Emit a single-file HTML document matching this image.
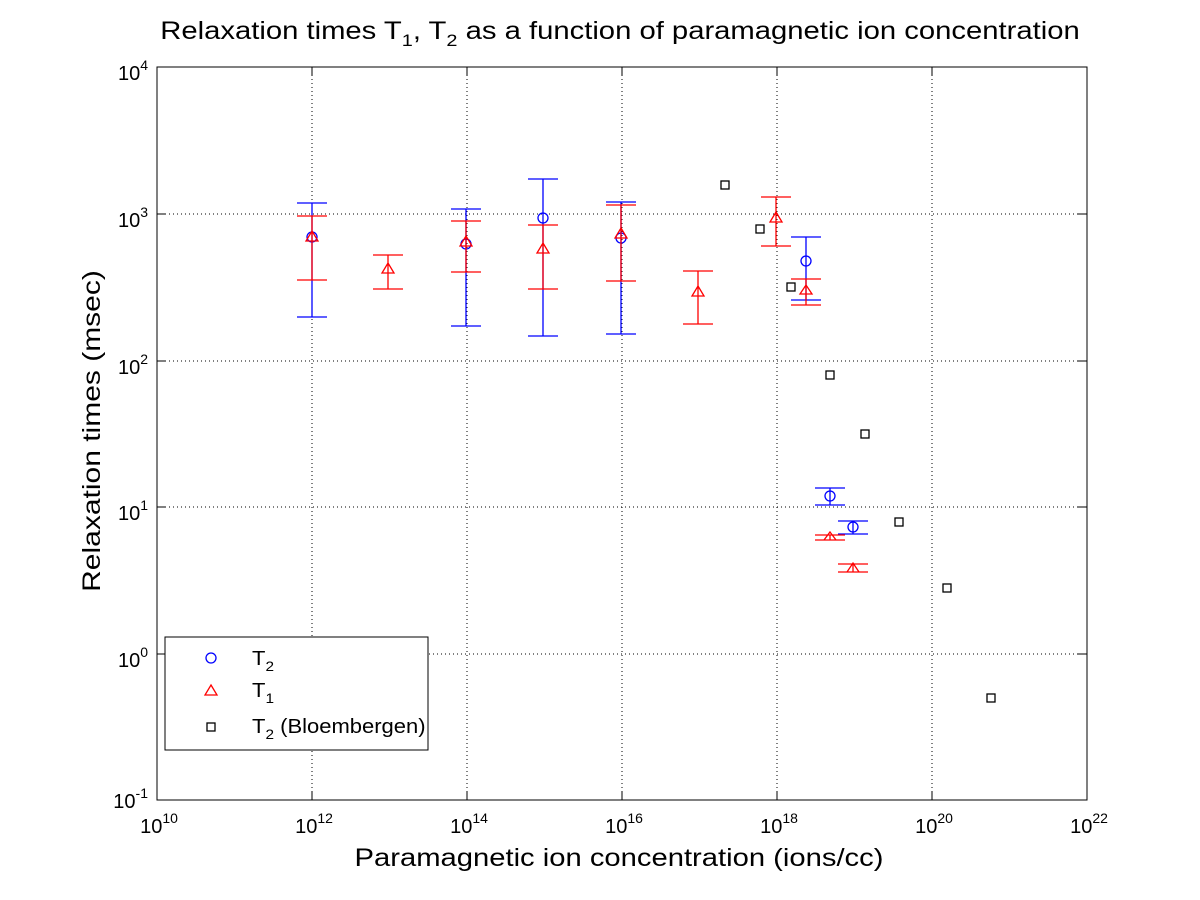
<!DOCTYPE html>
<html><head><style>body{margin:0;background:#fff}svg{display:block}</style></head><body>
<svg width="1200" height="900" xmlns="http://www.w3.org/2000/svg" font-family="Liberation Sans, sans-serif">
<rect width="1200" height="900" fill="#fff"/>
<g stroke="#000" stroke-dasharray="1,3" stroke-width="1">
<line x1="312" y1="67" x2="312" y2="800"/><line x1="467" y1="67" x2="467" y2="800"/><line x1="622" y1="67" x2="622" y2="800"/><line x1="777" y1="67" x2="777" y2="800"/><line x1="932" y1="67" x2="932" y2="800"/>
<line x1="157" y1="214" x2="1087" y2="214"/><line x1="157" y1="361" x2="1087" y2="361"/><line x1="157" y1="507" x2="1087" y2="507"/><line x1="157" y1="654" x2="1087" y2="654"/>
</g>
<rect x="157" y="67" width="930" height="733" fill="none" stroke="#000"/>
<g stroke="#000">
<line x1="157" y1="800" x2="157" y2="791"/><line x1="312" y1="800" x2="312" y2="791"/><line x1="467" y1="800" x2="467" y2="791"/><line x1="622" y1="800" x2="622" y2="791"/><line x1="777" y1="800" x2="777" y2="791"/><line x1="932" y1="800" x2="932" y2="791"/><line x1="1087" y1="800" x2="1087" y2="791"/>
<line x1="312" y1="67" x2="312" y2="76"/><line x1="467" y1="67" x2="467" y2="76"/><line x1="622" y1="67" x2="622" y2="76"/><line x1="777" y1="67" x2="777" y2="76"/><line x1="932" y1="67" x2="932" y2="76"/>
<line x1="157" y1="214" x2="166" y2="214"/><line x1="157" y1="361" x2="166" y2="361"/><line x1="157" y1="507" x2="166" y2="507"/><line x1="157" y1="654" x2="166" y2="654"/>
<line x1="1087" y1="214" x2="1078" y2="214"/><line x1="1087" y1="361" x2="1078" y2="361"/><line x1="1087" y1="507" x2="1078" y2="507"/><line x1="1087" y1="654" x2="1078" y2="654"/>
</g>
<g font-size="20" text-anchor="middle">
<text x="159" y="833">10<tspan dy="-10" font-size="14">10</tspan></text>
<text x="314" y="833">10<tspan dy="-10" font-size="14">12</tspan></text>
<text x="469" y="833">10<tspan dy="-10" font-size="14">14</tspan></text>
<text x="624" y="833">10<tspan dy="-10" font-size="14">16</tspan></text>
<text x="779" y="833">10<tspan dy="-10" font-size="14">18</tspan></text>
<text x="934" y="833">10<tspan dy="-10" font-size="14">20</tspan></text>
<text x="1089" y="833">10<tspan dy="-10" font-size="14">22</tspan></text>
</g>
<g font-size="20" text-anchor="end">
<text x="148" y="80">10<tspan dy="-10" font-size="14">4</tspan></text>
<text x="148" y="227">10<tspan dy="-10" font-size="14">3</tspan></text>
<text x="148" y="374">10<tspan dy="-10" font-size="14">2</tspan></text>
<text x="148" y="520">10<tspan dy="-10" font-size="14">1</tspan></text>
<text x="148" y="667">10<tspan dy="-10" font-size="14">0</tspan></text>
<text x="148" y="808">10<tspan dy="-10" font-size="14">-1</tspan></text>
</g>
<g transform="translate(620,39) scale(1.17,1)"><text x="0" y="0" font-size="25" text-anchor="middle">Relaxation times T<tspan dy="7" font-size="17">1</tspan><tspan dy="-7">, T</tspan><tspan dy="7" font-size="17">2</tspan><tspan dy="-7"> as a function of paramagnetic ion concentration</tspan></text></g>
<g transform="translate(619,866) scale(1.168,1)"><text x="0" y="0" font-size="25" text-anchor="middle">Paramagnetic ion concentration (ions/cc)</text></g>
<g transform="translate(100,431) rotate(-90) scale(1.2,1)"><text x="0" y="0" font-size="25" text-anchor="middle">Relaxation times (msec)</text></g>
<g stroke="#00f" fill="none" stroke-width="1.3">
<path d="M312 203V317M297 203H327M297 317H327"/><circle cx="312" cy="237" r="5"/>
<path d="M466 209V326M451 209H481M451 326H481"/><circle cx="466" cy="244" r="5"/>
<path d="M543 179V336M528 179H558M528 336H558"/><circle cx="543" cy="218" r="5"/>
<path d="M621 202V334M606 202H636M606 334H636"/><circle cx="621" cy="238" r="5"/>
<path d="M806 237V300M791 237H821M791 300H821"/><circle cx="806" cy="261" r="5"/>
<path d="M830 488V505M815 488H845M815 505H845"/><circle cx="830" cy="496" r="5"/>
<path d="M853 521V534M838 521H868M838 534H868"/><circle cx="853" cy="527" r="5"/>
</g>
<g stroke="#f00" fill="none" stroke-width="1.3">
<path d="M312 216V280M297 216H327M297 280H327M312 231L318 241H306Z"/>
<path d="M388 255V289M373 255H403M373 289H403M388 263L394 273H382Z"/>
<path d="M466 221V272M451 221H481M451 272H481M466 236L472 246H460Z"/>
<path d="M543 225V289M528 225H558M528 289H558M543 243L549 253H537Z"/>
<path d="M621 205V281M606 205H636M606 281H636M621 228L627 238H615Z"/>
<path d="M698 271V324M683 271H713M683 324H713M698 286L704 296H692Z"/>
<path d="M776 197V246M761 197H791M761 246H791M776 212L782 222H770Z"/>
<path d="M806 279V305M791 279H821M791 305H821M806 285L812 294H800Z"/>
<path d="M830 535V540M815 535H845M815 540H845M830 532L836 540H824Z"/>
<path d="M853 564V572M838 564H868M838 572H868M853 563L859 572H847Z"/>
</g>
<g stroke="#000" fill="none" stroke-width="1.3">
<rect x="721" y="181" width="8" height="8"/><rect x="756" y="225" width="8" height="8"/><rect x="787" y="283" width="8" height="8"/><rect x="826" y="371" width="8" height="8"/><rect x="861" y="430" width="8" height="8"/><rect x="895" y="518" width="8" height="8"/><rect x="943" y="584" width="8" height="8"/><rect x="987" y="694" width="8" height="8"/>
</g>
<rect x="165" y="637" width="263" height="113" fill="#fff" stroke="#000"/>
<circle cx="211" cy="658" r="5" fill="none" stroke="#00f" stroke-width="1.3"/>
<path d="M211 685L217 695H205Z" fill="none" stroke="#f00" stroke-width="1.3"/>
<rect x="207" y="723" width="8" height="8" fill="none" stroke="#000" stroke-width="1.3"/>
<g font-size="20" transform="translate(252,0) scale(1.1,1)">
<text x="0" y="665">T<tspan dy="6" font-size="14">2</tspan></text>
<text x="0" y="697">T<tspan dy="6" font-size="14">1</tspan></text>
<text x="0" y="733">T<tspan dy="6" font-size="14">2</tspan><tspan dy="-6"> (Bloembergen)</tspan></text>
</g>
</svg>
</body></html>
